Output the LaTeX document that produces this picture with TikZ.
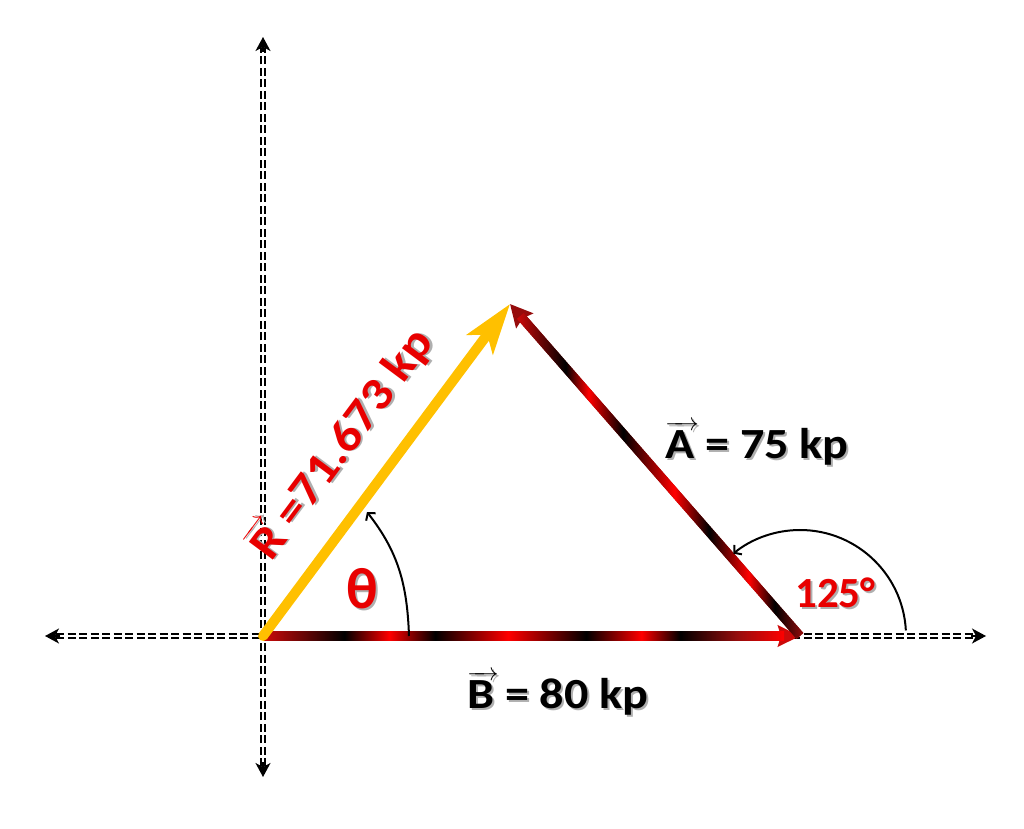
\documentclass[tikz,border=0pt]{standalone}
\usepackage{amsmath}
\usepackage{fontspec}
\setmainfont{Carlito}
\newfontfamily\lblfont[FakeStretch=1.12]{Carlito}
\newfontfamily\numfont[FakeStretch=1.0]{Carlito}
\usetikzlibrary{arrows.meta,calc}
\definecolor{gold}{RGB}{255,192,0}
\definecolor{vred}{RGB}{255,0,0}
\definecolor{dred}{RGB}{150,12,12}
\definecolor{mred}{RGB}{205,10,10}
\definecolor{txtred}{RGB}{232,0,0}
\definecolor{shgray}{RGB}{175,175,175}
\colorlet{vblk}{black}
\pgfdeclarehorizontalshading{shadeB}{100bp}{color(0bp)=(mred); color(25bp)=(mred); color(32.8bp)=(vblk); color(37.1bp)=(vred); color(41.5bp)=(vblk); color(48.5bp)=(vred); color(56bp)=(vblk); color(61.3bp)=(vred); color(65bp)=(vblk); color(70.5bp)=(dred); color(75bp)=(vred); color(100bp)=(vred)}
\pgfdeclarehorizontalshading{shadeA}{100bp}{color(0bp)=(mred); color(25bp)=(mred); color(33.5bp)=(vblk); color(37.5bp)=(vred); color(43.5bp)=(vblk); color(52.5bp)=(vred); color(58.5bp)=(vblk); color(65.5bp)=(vred); color(70bp)=(vblk); color(75bp)=(dred); color(100bp)=(dred)}
\newcommand\shd[1]{\leavevmode\rlap{\kern2pt\raisebox{-2pt}{\textcolor{shgray}{#1}}}#1}
\newcommand\vecl[1]{$\overrightarrow{\text{#1}\kern0.1em}$\kern-0.1em\relax}
\begin{document}
\begin{tikzpicture}[x=1pt,y=1pt,
  axisline/.style={line width=1.6pt, draw=black, double=white, double distance=2.2pt, dash pattern=on 8pt off 3.5pt},
  axtip/.style={line width=1.6pt, draw=black, fill=black, -{Stealth[length=14pt,width=15pt,inset=4pt]}},
  vecB/.style={line width=9pt, draw=mred, -{Stealth[length=22pt,width=21pt,inset=3pt]}},
  vecA/.style={line width=9pt, draw=dred, -{Stealth[length=22pt,width=22pt,inset=3pt]}},
  vecR/.style={line width=10pt, draw=gold, line cap=round, -{Stealth[length=50pt,width=32pt,inset=12pt]}},
  shaft/.style={shape=rectangle, inner sep=0pt, minimum height=9pt, shade},
  anglearc/.style={line width=2pt, draw=black, -{Straight Barb[length=5pt,width=12pt]}},
  lbl/.style={inner sep=0pt, font=\lblfont\bfseries\fontsize{43}{50}\selectfont},
]
\useasboundingbox (0,0) rectangle (1024,828);
\coordinate (O) at (263,192);
\coordinate (P) at (510,524);
\coordinate (Bend) at (800,192);
\coordinate (xl) at (45,192);
\coordinate (xr) at (986,192);
\coordinate (yt) at (263,791);
\coordinate (yb) at (263,51);
% axes
\draw[axisline, shorten <=11pt, shorten >=11pt] (xl) -- (xr);
\draw[axisline, shorten <=11pt, shorten >=11pt] (yb) -- (yt);
\draw[axtip] ($(xl)!15pt!(xr)$) -- (xl);
\draw[axtip] ($(xr)!15pt!(xl)$) -- (xr);
\draw[axtip] ($(yt)!15pt!(yb)$) -- (yt);
\draw[axtip] ($(yb)!15pt!(yt)$) -- (yb);
% vector B
\draw[vecB] (O) -- (Bend);
\path let \p1=($(Bend)-(O)$), \n1={veclen(\x1,\y1)-16pt} in
  node[shaft, shading=shadeB, minimum width=\n1, anchor=west] (shaftB) at (O) {};
% vector A
\draw[vecA] (Bend) -- (P);
\path let \p1=($(P)-(Bend)$), \n1={atan2(\y1,\x1)}, \n2={veclen(\x1,\y1)-16pt} in
  node[shaft, shading=shadeA, rotate=\n1, minimum width=\n2, anchor=west] (shaftA) at (Bend) {};
% resultant
\draw[vecR] (O) -- (P);
% angle arcs
\coordinate (thS) at (409,192);
\coordinate (thE) at (367,316);
\draw[anglearc] (thS) to[out=92,in=-52] (thE);
\coordinate (alS) at ($(Bend)+(3:106pt)$);
\draw[anglearc] (alS) arc[start angle=3, end angle=129, radius=106pt];
% labels
\node[lbl, anchor=base west, text=black] (labA) at (665,370) {\shd{\vecl{A} = 75 kp}};
\node[lbl, anchor=base west, text=black] (labB) at (467,120) {\shd{\vecl{B} = 80 kp}};
\node[inner sep=0pt, anchor=base west, text=txtred, font=\numfont\bfseries\fontsize{43}{50}\selectfont] (lab125) at (795,221) {\shd{125°}};
\node[inner sep=0pt, text=txtred, font=\bfseries\fontsize{58}{64}\selectfont] (labTh) at (362,238) {\shd{θ}};
\node[inner sep=0pt, anchor=base west, text=txtred, rotate=53.35, font=\lblfont\bfseries\fontsize{46}{52}\selectfont] (labR) at (271,265) {\shd{\vecl{R} =71.673 kp}};
\end{tikzpicture}
\end{document}
